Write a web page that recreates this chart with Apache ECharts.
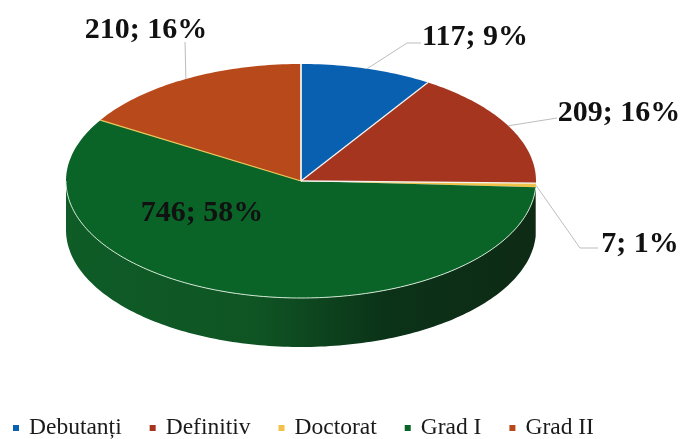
<!DOCTYPE html>
<html><head><meta charset="utf-8">
<style>html,body{margin:0;padding:0;background:#fff}#c{width:682px;height:439px}</style>
<script src="https://cdn.jsdelivr.net/npm/echarts@6/dist/echarts.min.js"></script>
</head><body><div id="c"></div>
<script>
const categories = ["Debutanți", "Definitiv", "Doctorat", "Grad I", "Grad II"];
const values = [117, 209, 7, 746, 210];
const percents = [9, 16, 1, 58, 16];
const colors = ["#0a60b0", "#a5351f", "#f0c24a", "#0a6428", "#b8491a"];

const total = values.reduce((a, b) => a + b, 0);
const C = {x: 301, y: 181, rx: 235, ry: 117, depth: 49};
// label centre + leader-line bends for each slice (layout only)
const labelPos = [[475, 37], [619, 113], [640, 244], [202, 213], [146, 30]];
const leaders = [[[407, 43], [421, 43]], [[557, 118]], [[580, 248], [598, 248]], null, [[185, 42]]];

function pt(a, dy) { // a in radians, clockwise from top
  return [C.x + C.rx * Math.sin(a), C.y - C.ry * Math.cos(a) + (dy || 0)];
}
function arc(a0, a1, dy) {
  const n = Math.max(2, Math.ceil((a1 - a0) / 0.02)), out = [];
  for (let i = 0; i <= n; i++) out.push(pt(a0 + (a1 - a0) * i / n, dy));
  return out;
}
const wallFill = {type: 'linear', x: 0, y: 0, x2: 1, y2: 0, colorStops: [
  {offset: 0, color: '#0f5c27'}, {offset: 0.4, color: '#0f5524'},
  {offset: 0.68, color: '#0b3318'}, {offset: 1, color: '#0e2a15'}]};

function makeRender(i) {
  return function (params, api) {
    const v = api.value(0);
    const before = values.slice(0, i).reduce((a, b) => a + b, 0);
    const a0 = before / total * 2 * Math.PI, a1 = a0 + v / total * 2 * Math.PI;
    const mid = (a0 + a1) / 2;
    const children = [];
    // front wall (visible between 90deg and 270deg)
    const w0 = Math.max(a0, Math.PI / 2), w1 = Math.min(a1, Math.PI * 1.5);
    if (w1 > w0) {
      const top = arc(w0, w1, 0), bot = arc(w0, w1, C.depth).reverse();
      children.push({type: 'polygon', shape: {points: top.concat(bot)},
        style: {fill: i === 3 ? wallFill : colors[i]}, z2: 1});
    }
    // top face
    const face = [[C.x, C.y]].concat(arc(a0, a1, 0));
    children.push({type: 'polygon', shape: {points: face}, style: {fill: colors[i]}, z2: 2});
    // white separators / rim
    if (i === 3) {
      children.push({type: 'polyline', shape: {points: arc(Math.PI / 2 + 0.06, Math.PI * 1.5, 0)},
        style: {stroke: '#cfe6d2', lineWidth: 1, fill: null}, z2: 3});
    }
    const sep = i === 4 ? '#e8c65a' : (i === 3 ? null : '#f4f4f0');
    if (sep) {
      children.push({type: 'line', shape: {x1: C.x, y1: C.y, x2: pt(a0)[0], y2: pt(a0)[1]},
        style: {stroke: sep, lineWidth: 1.3}, z2: 3});
    }
    if (i === 4) {
      children.push({type: 'line', shape: {x1: C.x, y1: C.y, x2: pt(a1)[0], y2: pt(a1)[1]},
        style: {stroke: '#f4f4f0', lineWidth: 1.3}, z2: 3});
    }
    // leader line
    if (leaders[i]) {
      children.push({type: 'polyline', shape: {points: [pt(mid)].concat(leaders[i])},
        style: {stroke: '#bdbdbd', lineWidth: 1, fill: null}, z2: 4});
    }
    // data label
    children.push({type: 'text', z2: 5, style: {
      x: labelPos[i][0], y: labelPos[i][1], text: v + '; ' + percents[i] + '%',
      font: 'bold 30px "Liberation Serif"', fill: '#111', align: 'center', verticalAlign: 'middle'}});
    return {type: 'group', children};
  };
}

const chart = echarts.init(document.getElementById('c'), null, {renderer: 'canvas'});
chart.setOption({
  animation: false,
  backgroundColor: '#fff',
  legend: {
    data: categories, left: 13, top: 416, itemWidth: 6, itemHeight: 6, itemGap: 28, icon: 'rect',
    padding: 0,
    textStyle: {fontFamily: 'Liberation Serif', fontSize: 23.5, color: '#1a1a1a', padding: [0, 0, 0, 5]}
  },
  series: categories.map((name, i) => ({
    type: 'custom', name, coordinateSystem: 'none', renderItem: makeRender(i),
    itemStyle: {color: colors[i]}, data: [[values[i]]], silent: true
  }))
});
</script></body></html>
